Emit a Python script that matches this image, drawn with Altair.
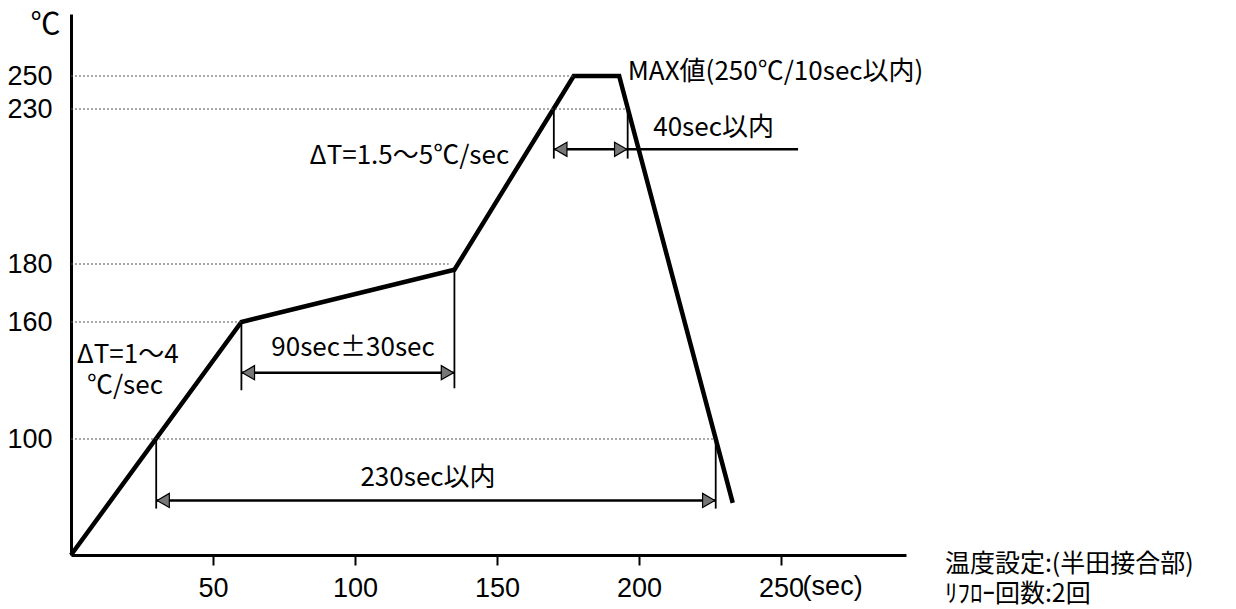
import altair as alt
import pandas as pd

# ---- reflow profile (time in sec, temperature in degC) ----
prof_t = [0, 60, 135, 177, 193, 233]
prof_temp = [0, 160, 178, 250, 250, 45]

# ---- dotted reference levels and where they meet the profile ----
level_temp = [250, 230, 180, 160, 100]
level_end_t = [177, 196, 133, 60, 227]

# ---- dimension arrows ----
arrow_t1 = [60, 170, 30]
arrow_t2 = [135, 196, 227]
arrow_temp = [134, 217, 47]

# ---- extension lines of the dimensions ----
ext_t = [30, 227, 60, 135, 170, 196]
ext_lo = [40, 40, 125, 126, 214, 214]
ext_hi = [100, 100, 160, 178, 230, 230]

# ---- leader line of "40sec以内" ----
leader_t = [196, 256]
leader_temp = 217

# ---- axis ticks ----
x_ticks = [50, 100, 150, 200, 250]
y_ticks = [100, 160, 180, 230, 250]

# ---- annotation texts ----
left_texts = ["MAX値(250℃/10sec以内)", "40sec以内", "ΔT=1.5～5℃/sec", "ΔT=1～4", "℃/sec"]
left_t = [196, 205, 84, 2, 5.6]
left_temp = [252, 224, 214.7, 143, 127]

note_texts = ["温度設定:(半田接合部)", "ﾘﾌﾛｰ回数:2回"]
note_t = [307.7, 307.7]
note_temp = [-7.8, -33.6]

center_texts = ["90sec±30sec", "230sec以内"]
center_t = [99.3, 125.7]
center_temp = [146.7, 66.4]

unit_y_text = ["℃"]
unit_y_t = [-9]
unit_y_temp = [274.5]

unit_x_text = ["(sec)"]
unit_x_t = [257.6]
unit_x_temp = [-27.6]

JP = "Noto Sans CJK JP"
NUM = "Liberation Sans"

xs = alt.Scale(domain=[0, 294], range=[0, 835], nice=False, zero=False)
ys = alt.Scale(domain=[0, 100, 160, 180, 230, 250, 280],
               range=[541, 425, 308, 250, 95, 62, 0], nice=False, zero=False)

prof = pd.DataFrame({"i": range(len(prof_t)), "t": prof_t, "temp": prof_temp})
levels = pd.DataFrame({"temp": level_temp, "t_end": level_end_t, "t0": [0] * len(level_temp)})
arrows = pd.DataFrame({"t1": arrow_t1, "t2": arrow_t2, "temp": arrow_temp})
exts = pd.DataFrame({"t": ext_t, "lo": ext_lo, "hi": ext_hi})
leader = pd.DataFrame({"t1": [leader_t[0]], "t2": [leader_t[1]], "temp": [leader_temp]})
ltxt = pd.DataFrame({"t": left_t, "temp": left_temp, "txt": left_texts})
ntxt = pd.DataFrame({"t": note_t, "temp": note_temp, "txt": note_texts})
ctxt = pd.DataFrame({"t": center_t, "temp": center_temp, "txt": center_texts})
uytxt = pd.DataFrame({"t": unit_y_t, "temp": unit_y_temp, "txt": unit_y_text})
uxtxt = pd.DataFrame({"t": unit_x_t, "temp": unit_x_temp, "txt": unit_x_text})

x_axis = alt.Axis(values=x_ticks, title=None, grid=False, domainWidth=3, domainColor="black",
                  tickSize=10, tickWidth=2, tickColor="black", labelFont=NUM, labelFontSize=27,
                  labelColor="black", labelPadding=10, labelFlush=False, labelOverlap=False)
y_axis = alt.Axis(values=y_ticks, title=None, grid=False, domainWidth=3, domainColor="black",
                  ticks=False, labelFont=NUM, labelFontSize=27, labelColor="black",
                  labelPadding=19, labelFlush=False, labelOverlap=False)


def X(field):
    return alt.X(field, scale=xs, axis=x_axis)


def Y(field):
    return alt.Y(field, scale=ys, axis=y_axis)


def texts(df, align, font, size):
    return alt.Chart(df).mark_text(align=align, baseline="middle", font=font, fontSize=size,
                                   color="black").encode(x=X("t:Q"), y=Y("temp:Q"), text="txt:N")


profile = alt.Chart(prof).mark_line(color="black", strokeWidth=4.5, strokeJoin="miter").encode(
    x=X("t:Q"), y=Y("temp:Q"), order="i:Q",
)

grid = alt.Chart(levels).mark_rule(color="#555", strokeWidth=1, strokeDash=[2, 2]).encode(
    x=X("t0:Q"), x2="t_end:Q", y=Y("temp:Q"),
)

ext_lines = alt.Chart(exts).mark_rule(color="black", strokeWidth=1.8).encode(
    x=X("t:Q"), y=Y("lo:Q"), y2="hi:Q",
)

arrow_lines = alt.Chart(arrows).mark_rule(color="black", strokeWidth=2.5).encode(
    x=X("t1:Q"), x2="t2:Q", y=Y("temp:Q"),
)

leader_line = alt.Chart(leader).mark_rule(color="black", strokeWidth=2.5).encode(
    x=X("t1:Q"), x2="t2:Q", y=Y("temp:Q"),
)

head_l = alt.Chart(arrows).mark_point(shape="triangle-left", filled=True, size=200, xOffset=7,
                                      fill="#777", stroke="black", strokeWidth=1.2, opacity=1).encode(
    x=X("t1:Q"), y=Y("temp:Q"),
)
head_r = alt.Chart(arrows).mark_point(shape="triangle-right", filled=True, size=200, xOffset=-7,
                                      fill="#777", stroke="black", strokeWidth=1.2, opacity=1).encode(
    x=X("t2:Q"), y=Y("temp:Q"),
)

chart = alt.layer(
    profile, grid, ext_lines, arrow_lines, leader_line, head_l, head_r,
    texts(ltxt, "left", JP, 26),
    texts(ctxt, "center", JP, 26),
    texts(ntxt, "left", JP, 25),
    texts(uytxt, "center", JP, 30),
    texts(uxtxt, "left", NUM, 27),
).properties(
    width=835, height=541,
    autosize=alt.AutoSizeParams(type="none"),
    padding={"left": 63, "top": 6, "right": 322, "bottom": 53},
    background="white",
).configure_view(stroke=None)

chart.save("out.html", embed_options={"renderer": "svg", "actions": False})
